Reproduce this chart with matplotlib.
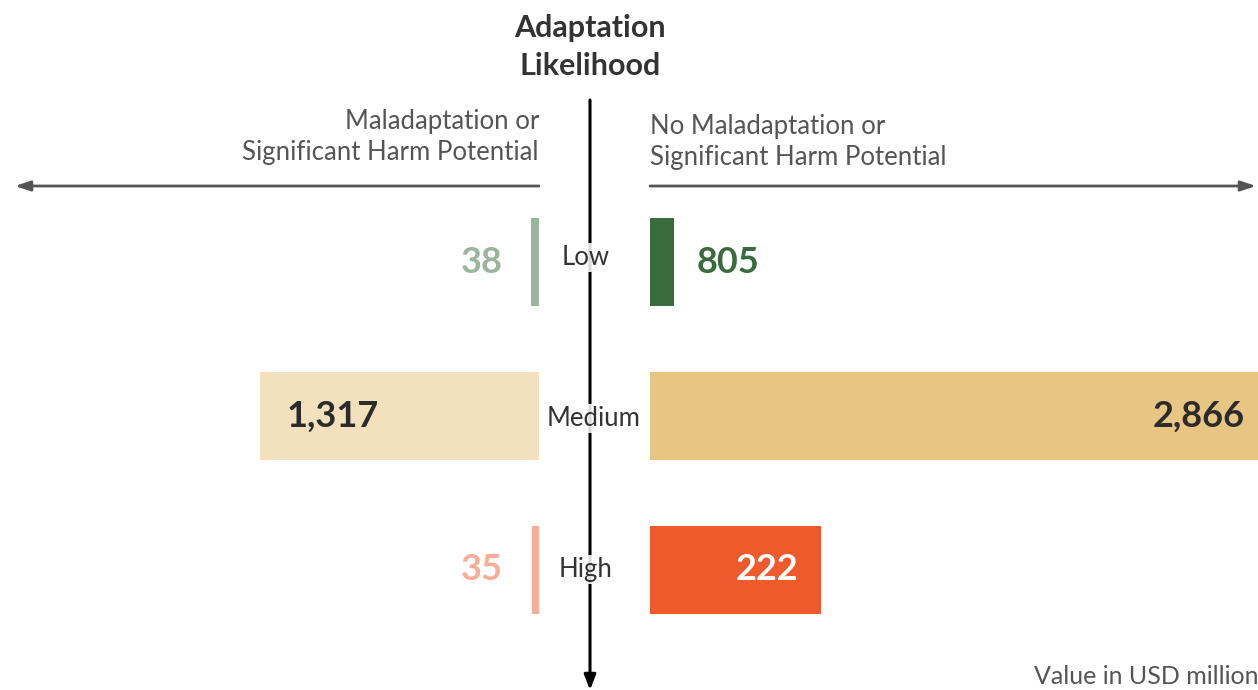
import matplotlib

matplotlib.use("Agg")
import matplotlib.pyplot as plt

plt.rcParams["font.family"] = ["Lato", "DejaVu Sans"]

categories = ["Low", "Medium", "High"]
left_values = [38, 1317, 35]
right_values = [805, 2866, 222]
# drawn bar lengths as they appear in the picture (Low/High right bars are not to scale with labels)
left_lengths = [38, 1317, 35]
right_lengths = [113, 2866, 806]

left_colors = ["#9ab59c", "#f3e1bd", "#f8ad96"]
right_colors = ["#3a6b3c", "#e7c583", "#ef5a2d"]
left_text = ["#9ab59c", "#2b2b2b", "#f8ad96"]
right_text = ["#3a6b3c", "#2b2b2b", "#ffffff"]

W, H = 1258, 690
fig = plt.figure(figsize=(W / 100, H / 100), dpi=100)
fig.patch.set_facecolor("white")

# y in category units: row 0 centred at pixel 262, rows 154 px apart
y0, step = 262, 154
ylim = ((H - y0) / step, -y0 / step)
px_per_unit = 608 / 2866

ax_r = fig.add_axes([650 / W, 0, 608 / W, 1])
ax_r.set_xlim(0, 2866)
ax_r.set_ylim(*ylim)
ax_l = fig.add_axes([0, 0, 539 / W, 1])
ax_l.set_xlim(539 / px_per_unit, 0)
ax_l.set_ylim(*ylim)

bh = 88 / step
ys = list(range(len(categories)))
ax_r.barh(ys, right_lengths, height=bh, color=right_colors)
ax_l.barh(ys, left_lengths, height=bh, color=left_colors)
for a in (ax_l, ax_r):
    a.axis("off")

# overlay in pixel coordinates for arrows and text
ov = fig.add_axes([0, 0, 1, 1], zorder=5)
ov.set_xlim(0, W)
ov.set_ylim(H, 0)
ov.axis("off")
ov.patch.set_alpha(0)

ov.annotate("", xy=(590, 690), xytext=(590, 100),
            arrowprops=dict(arrowstyle="-|>,head_length=0.9,head_width=0.35", color="black", lw=2.2,
                            shrinkA=0, shrinkB=0))
ov.annotate("", xy=(15, 186), xytext=(539, 186),
            arrowprops=dict(arrowstyle="-|>,head_length=0.9,head_width=0.3", color="#555555", lw=2,
                            shrinkA=0, shrinkB=0))
ov.annotate("", xy=(1256, 186), xytext=(650, 186),
            arrowprops=dict(arrowstyle="-|>,head_length=0.9,head_width=0.3", color="#555555", lw=2,
                            shrinkA=0, shrinkB=0))

ov.text(590, 47, "Adaptation\nLikelihood", ha="center", va="center", fontsize=22,
        fontweight="bold", color="#333333", linespacing=1.45)
ov.text(539, 137, "Maladaptation or\nSignificant Harm Potential", ha="right", va="center",
        fontsize=18.5, color="#555555", linespacing=1.3)
ov.text(650, 142, "No Maladaptation or\nSignificant Harm Potential", ha="left", va="center",
        fontsize=18.5, color="#555555", linespacing=1.3)
ov.text(1258, 684, "Value in USD million", ha="right", va="baseline", fontsize=18, color="#555555")

cat_x = [586, 594, 586]
cat_base = [265, 426, 577]
for i, c in enumerate(categories):
    ov.text(cat_x[i], cat_base[i], c, ha="center", va="baseline", fontsize=18.5, color="#333333",
            bbox=dict(facecolor="white", edgecolor="none", pad=1.5, alpha=0.85))

# value labels
for i, v in enumerate(left_values):
    lab = f"{v:,}"
    if left_lengths[i] * px_per_unit > 100:
        ax_l.text(left_lengths[i] - 27 / px_per_unit, i, lab, ha="left", va="center",
                  fontsize=26, fontweight="bold", color=left_text[i])
    else:
        ax_l.text(36 / px_per_unit, i, lab, ha="right", va="center",
                  fontsize=26, fontweight="bold", color=left_text[i])
for i, v in enumerate(right_values):
    lab = f"{v:,}"
    if right_lengths[i] * px_per_unit > 100:
        ax_r.text(right_lengths[i] - 13 / px_per_unit if i == 1 else right_lengths[i] - 23 / px_per_unit,
                  i, lab, ha="right", va="center", fontsize=26, fontweight="bold", color=right_text[i])
    else:
        ax_r.text(right_lengths[i] + 23 / px_per_unit, i, lab, ha="left", va="center",
                  fontsize=26, fontweight="bold", color=right_text[i])

fig.savefig("out.png", dpi=100, facecolor="white")
